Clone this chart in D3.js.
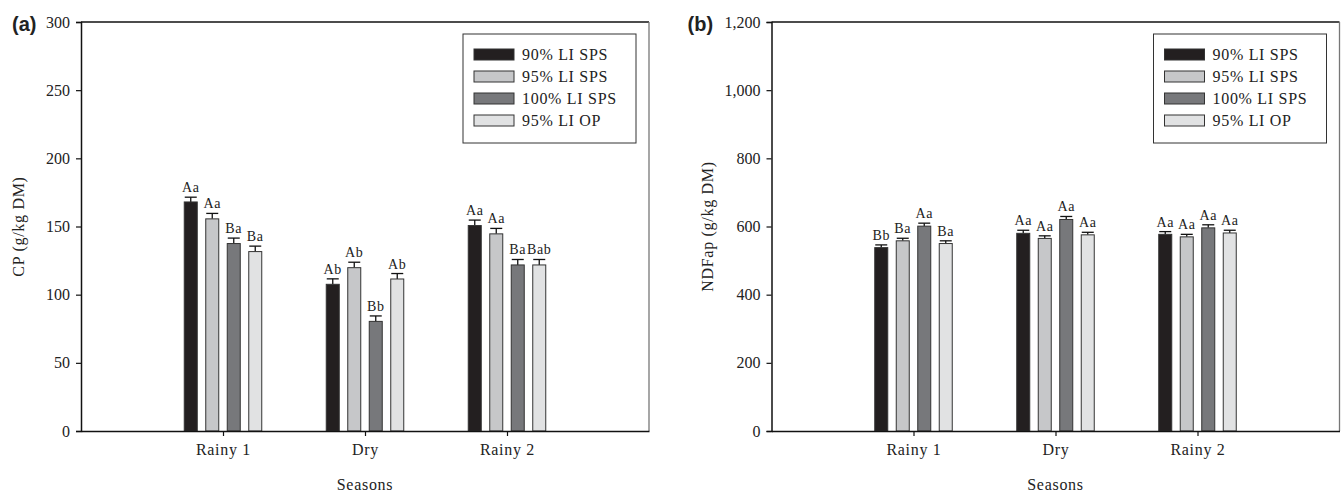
<!DOCTYPE html>
<html lang="en">
<head>
<meta charset="UTF-8">
<title>CP and NDFap by season</title>
<style>
  body { margin: 0; background: #fff; }
  svg { display: block; font-family: "Liberation Serif", "DejaVu Serif", serif; }
</style>
<script src="https://cdn.jsdelivr.net/npm/d3@7"></script>
</head>
<body>
<div id="graphic"></div>
<script>
// seasons on the x axis
var seasons = ['Rainy 1', 'Dry', 'Rainy 2'];
var treatments = ['90% LI SPS', '95% LI SPS', '100% LI SPS', '95% LI OP'];
var colors = ['#231f20', '#c6c7c9', '#77787b', '#e1e2e3'];

// panel (a) CP, one row per treatment, values per season
var cpMeans = [[168, 107.6, 150.7], [155.6, 119.8, 144.6], [137.5, 80.4, 121.8], [131.6, 111.5, 121.8]];
var cpErr = [[3.5, 4, 4], [4, 4, 4], [4, 4, 4], [4, 4, 4]];
var cpLetters = [['Aa', 'Ab', 'Aa'], ['Aa', 'Ab', 'Aa'], ['Ba', 'Bb', 'Ba'], ['Ba', 'Ab', 'Bab']];
var cpTicks = [0, 50, 100, 150, 200, 250, 300];

// panel (b) NDFap
var ndfMeans = [[538, 580, 577], [558, 565, 569.6], [601, 620.6, 596], [550, 575.5, 581]];
var ndfErr = [[8, 9, 8], [7.5, 7.6, 7.4], [8.8, 8.8, 9], [8, 7.5, 8]];
var ndfLetters = [['Bb', 'Aa', 'Aa'], ['Ba', 'Aa', 'Aa'], ['Aa', 'Aa', 'Aa'], ['Ba', 'Aa', 'Aa']];
var ndfTicks = [0, 200, 400, 600, 800, 1000, 1200];

var width = 1341, height = 493;
var svg = d3.select('#graphic').append('svg')
    .attr('width', width).attr('height', height);

var fs = 16;   // main text size
var ls = 0.7;  // letter spacing, the original type is set a bit loose

function drawPanel(opts) {
    var left = opts.left, top = 22, w = 568, h = 409;
    var g = svg.append('g').attr('transform', 'translate(' + left + ',' + top + ')');

    var x = d3.scalePoint().domain(seasons).range([0, w]).padding(1);
    var y = d3.scaleLinear().domain([0, opts.max]).range([h, 0]);
    var offset = d3.scaleBand().domain(d3.range(4)).range([-43, 43]);
    var barW = 13;

    // frame: top black, right grey
    g.append('line').attr('x1', 0).attr('x2', w).attr('y1', 0).attr('y2', 0)
        .attr('stroke', '#111').attr('stroke-width', 1.3);
    g.append('line').attr('x1', w).attr('x2', w).attr('y1', 0).attr('y2', h)
        .attr('stroke', '#777').attr('stroke-width', 1.3);

    var rows = [];
    treatments.forEach(function (t, i) {
        seasons.forEach(function (s, j) {
            rows.push({ t: i, s: s, v: opts.means[i][j], e: opts.err[i][j], lab: opts.letters[i][j] });
        });
    });

    function cx(d) { return x(d.s) + offset(d.t) + offset.bandwidth() / 2; }

    // error bars (upper only)
    var eb = g.selectAll('.eb').data(rows).join('g').attr('class', 'eb');
    eb.append('line')
        .attr('x1', cx).attr('x2', cx)
        .attr('y1', function (d) { return y(d.v); })
        .attr('y2', function (d) { return y(d.v + d.e); })
        .attr('stroke', '#111').attr('stroke-width', 1.3);
    eb.append('line')
        .attr('x1', function (d) { return cx(d) - 6; })
        .attr('x2', function (d) { return cx(d) + 6; })
        .attr('y1', function (d) { return y(d.v + d.e); })
        .attr('y2', function (d) { return y(d.v + d.e); })
        .attr('stroke', '#111').attr('stroke-width', 1.3);

    g.selectAll('.bar').data(rows).join('rect').attr('class', 'bar')
        .attr('x', function (d) { return cx(d) - barW / 2; })
        .attr('y', function (d) { return y(d.v); })
        .attr('width', barW)
        .attr('height', function (d) { return h - y(d.v); })
        .attr('fill', function (d) { return colors[d.t]; })
        .attr('stroke', '#333').attr('stroke-width', 1);

    g.selectAll('.lab').data(rows).join('text').attr('class', 'lab')
        .attr('x', cx)
        .attr('y', function (d) { return y(d.v + d.e) - 5; })
        .attr('text-anchor', 'middle')
        .attr('font-size', 14).attr('letter-spacing', 0.6)
        .attr('fill', '#222')
        .text(function (d) { return d.lab; });

    // axes
    var yAxis = g.append('g')
        .call(d3.axisLeft(y).tickValues(opts.ticks).tickSize(5).tickPadding(6)
            .tickFormat(d3.format(',')));
    yAxis.select('.domain').attr('stroke', '#111').attr('stroke-width', 1.5);
    yAxis.selectAll('.tick line').attr('stroke', '#111').attr('stroke-width', 1.2);
    yAxis.selectAll('text').attr('font-size', fs).attr('fill', '#222')
        .attr('font-family', '"Liberation Serif", serif');

    var xAxis = g.append('g').attr('transform', 'translate(0,' + h + ')')
        .call(d3.axisBottom(x).tickSize(5).tickPadding(8).tickSizeOuter(0));
    xAxis.select('.domain').attr('stroke', '#111').attr('stroke-width', 1.5);
    xAxis.selectAll('.tick line').attr('stroke', '#111').attr('stroke-width', 1.2);
    xAxis.selectAll('text').attr('font-size', fs).attr('fill', '#222')
        .attr('letter-spacing', ls)
        .attr('font-family', '"Liberation Serif", serif');

    g.append('text').attr('x', w / 2).attr('y', h + 59)
        .attr('text-anchor', 'middle').attr('font-size', fs).attr('fill', '#222')
        .attr('letter-spacing', ls)
        .text('Seasons');

    g.append('text')
        .attr('transform', 'translate(' + opts.titleX + ',' + (h / 2) + ') rotate(-90)')
        .attr('text-anchor', 'middle').attr('font-size', fs).attr('fill', '#222')
        .attr('letter-spacing', ls)
        .text(opts.title);

    g.append('text').attr('x', opts.tagX).attr('y', 9)
        .attr('font-family', '"Liberation Sans", Arial, sans-serif')
        .attr('font-weight', 'bold').attr('font-size', 20).attr('fill', '#222')
        .text(opts.tag);

    // legend
    var lg = g.append('g').attr('transform', 'translate(382,12)');
    lg.append('rect').attr('width', 173).attr('height', 109)
        .attr('fill', '#fff').attr('stroke', '#333').attr('stroke-width', 1);
    var items = lg.selectAll('.item').data(treatments).join('g').attr('class', 'item')
        .attr('transform', function (d, i) { return 'translate(11,' + (15 + i * 22) + ')'; });
    items.append('rect').attr('width', 40).attr('height', 11)
        .attr('fill', function (d, i) { return colors[i]; })
        .attr('stroke', '#333').attr('stroke-width', 1);
    items.append('text').attr('x', 48).attr('y', 11)
        .attr('font-size', fs).attr('fill', '#222').attr('letter-spacing', ls)
        .text(function (d) { return d; });
}

drawPanel({ left: 81, max: 300, ticks: cpTicks, means: cpMeans, err: cpErr, letters: cpLetters,
    title: 'CP (g/kg DM)', titleX: -57, tag: '(a)', tagX: -69 });
drawPanel({ left: 771.5, max: 1200, ticks: ndfTicks, means: ndfMeans, err: ndfErr, letters: ndfLetters,
    title: 'NDFap (g/kg DM)', titleX: -59, tag: '(b)', tagX: -84 });
</script>
</body>
</html>
